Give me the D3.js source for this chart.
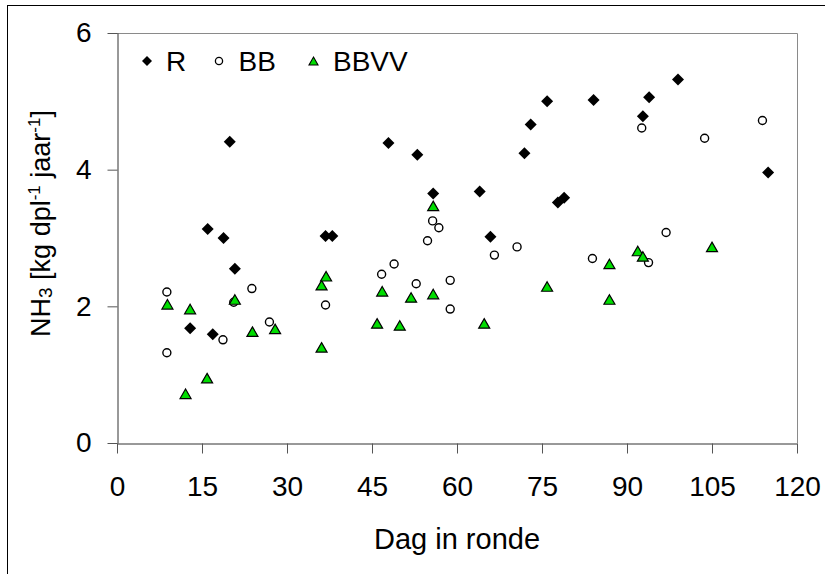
<!DOCTYPE html>
<html>
<head>
<meta charset="utf-8">
<script src="https://cdn.jsdelivr.net/npm/d3@7"></script>
<style>
  html, body { margin: 0; padding: 0; background: #fff; }
  svg { display: block; font-family: "Liberation Sans", Arial, sans-serif; }
</style>
</head>
<body>
<svg id="chart" width="825" height="574"></svg>
<script>
// ---- Data ----
const seriesNames = ["R", "BB", "BBVV"];

const rDays   = [12.9, 16.0, 16.9, 18.8, 19.9, 20.8, 36.8, 38.0, 47.9, 53.0, 55.8, 64.0, 65.9, 71.9, 73.0, 75.9, 77.8, 78.9, 84.1, 92.8, 93.9, 99.0, 114.9];
const rValues = [1.68, 3.13, 1.59, 3.00, 4.41, 2.55, 3.03, 3.03, 4.39, 4.22, 3.65, 3.68, 3.02, 4.24, 4.66, 5.00, 3.52, 3.59, 5.02, 4.78, 5.06, 5.32, 3.96];

const bbDays   = [8.8, 8.8, 18.7, 20.6, 23.8, 26.9, 36.8, 46.7, 48.9, 52.8, 54.8, 55.7, 56.8, 58.8, 58.8, 66.6, 70.6, 83.9, 92.6, 93.8, 96.9, 103.7, 113.9];
const bbValues = [2.21, 1.32, 1.51, 2.06, 2.26, 1.77, 2.02, 2.47, 2.62, 2.33, 2.96, 3.25, 3.15, 2.38, 1.96, 2.75, 2.87, 2.70, 4.61, 2.64, 3.08, 4.46, 4.72];

const bbvvDays   = [8.9, 12.1, 12.9, 15.9, 20.8, 23.9, 27.9, 36.1, 36.1, 36.9, 45.9, 46.8, 49.9, 51.9, 55.8, 55.8, 64.8, 75.9, 86.9, 86.9, 91.9, 92.8, 105.0];
const bbvvValues = [2.03, 0.72, 1.96, 0.95, 2.10, 1.63, 1.67, 2.31, 1.40, 2.44, 1.75, 2.22, 1.72, 2.13, 2.18, 3.47, 1.75, 2.29, 2.62, 2.10, 2.81, 2.73, 2.87];

const xTicks = [0, 15, 30, 45, 60, 75, 90, 105, 120];
const yTicks = [0, 2, 4, 6];

// ---- Layout ----
const svg = d3.select("#chart");
const pLeft = 117, pRight = 797, pTop = 33, pBottom = 443;

const x = d3.scaleLinear().domain([0, 120]).range([pLeft, pRight]);
const y = d3.scaleLinear().domain([0, 6]).range([pBottom, pTop]);

// outer frame (extends past the right/bottom of the picture)
svg.append("rect")
  .attr("x", 7.5).attr("y", 5.5)
  .attr("width", 900).attr("height", 700)
  .attr("fill", "none").attr("stroke", "#000").attr("stroke-width", 1);

// top and right plot border
svg.append("path")
  .attr("d", `M${pLeft},${pTop + 0.5}H${pRight + 0.5}V${pBottom}`)
  .attr("fill", "none").attr("stroke", "#8a8a8a").attr("stroke-width", 1);

// axes
const fs = 28;
const fmt = d3.format("d");
const xAxis = d3.axisBottom(x).tickValues(xTicks).tickFormat(fmt).tickSize(10).tickSizeOuter(0).tickPadding(23);
const gx = svg.append("g").attr("transform", `translate(0,${pBottom + 0.5})`).call(xAxis);
const yAxis = d3.axisLeft(y).tickValues(yTicks).tickFormat(fmt).tickSize(10).tickSizeOuter(0).tickPadding(16);
const gy = svg.append("g").attr("transform", `translate(${pLeft + 0.5},0)`).call(yAxis);

[gx, gy].forEach(g => {
  g.select(".domain").attr("stroke", "#333");
  g.selectAll(".tick line").attr("stroke", "#555");
  g.selectAll(".tick text").attr("font-size", fs).attr("fill", "#000")
    .attr("font-family", "Liberation Sans, Arial, sans-serif");
});

// axis titles
svg.append("text")
  .attr("x", (pLeft + pRight) / 2).attr("y", 549)
  .attr("text-anchor", "middle").attr("font-size", 29)
  .text("Dag in ronde");

const yt = svg.append("text")
  .attr("transform", "translate(50,223.5) rotate(-90)")
  .attr("text-anchor", "middle").attr("font-size", 27);
yt.append("tspan").text("NH");
yt.append("tspan").attr("font-size", 19).attr("baseline-shift", "-2").text("3");
yt.append("tspan").text(" [kg dpl");
yt.append("tspan").attr("font-size", 17).attr("baseline-shift", "10").text("-1");
yt.append("tspan").text(" jaar");
yt.append("tspan").attr("font-size", 17).attr("baseline-shift", "10").text("-1");
yt.append("tspan").text("]");

// ---- Marker shapes ----
function diamond(s) { return `M0,${-s}L${s},0L0,${s}L${-s},0Z`; }
function triangle(w, h) { return `M0,${-h / 2}L${w / 2},${h / 2}L${-w / 2},${h / 2}Z`; }
const green = "#00dd00";

const rData = rDays.map((d, i) => ({ d, v: rValues[i] }));
const bbData = bbDays.map((d, i) => ({ d, v: bbValues[i] }));
const bbvvData = bbvvDays.map((d, i) => ({ d, v: bbvvValues[i] }));

svg.append("g").selectAll("path").data(rData).join("path")
  .attr("transform", p => `translate(${x(p.d)},${y(p.v)})`)
  .attr("d", diamond(6)).attr("fill", "#000");

svg.append("g").selectAll("circle").data(bbData).join("circle")
  .attr("cx", p => x(p.d)).attr("cy", p => y(p.v)).attr("r", 4)
  .attr("fill", "#fff").attr("stroke", "#000").attr("stroke-width", 1.4);

svg.append("g").selectAll("path").data(bbvvData).join("path")
  .attr("transform", p => `translate(${x(p.d)},${y(p.v)})`)
  .attr("d", triangle(11, 9.5)).attr("fill", green)
  .attr("stroke", "#000").attr("stroke-width", 1.2).attr("stroke-linejoin", "miter");

// ---- Legend ----
const lg = svg.append("g");
const ly = 61;
lg.append("path").attr("transform", `translate(147,${ly})`).attr("d", diamond(5)).attr("fill", "#000");
lg.append("text").attr("x", 166).attr("y", ly + 9.5).attr("font-size", 28).text(seriesNames[0]);
lg.append("circle").attr("cx", 219).attr("cy", ly).attr("r", 3.6)
  .attr("fill", "#fff").attr("stroke", "#000").attr("stroke-width", 1.3);
lg.append("text").attr("x", 238.5).attr("y", ly + 9.5).attr("font-size", 28).text(seriesNames[1]);
lg.append("path").attr("transform", `translate(313.5,${ly})`).attr("d", triangle(9, 8))
  .attr("fill", green).attr("stroke", "#000").attr("stroke-width", 1.1);
lg.append("text").attr("x", 333).attr("y", ly + 9.5).attr("font-size", 28).text(seriesNames[2]);
</script>
</body>
</html>
